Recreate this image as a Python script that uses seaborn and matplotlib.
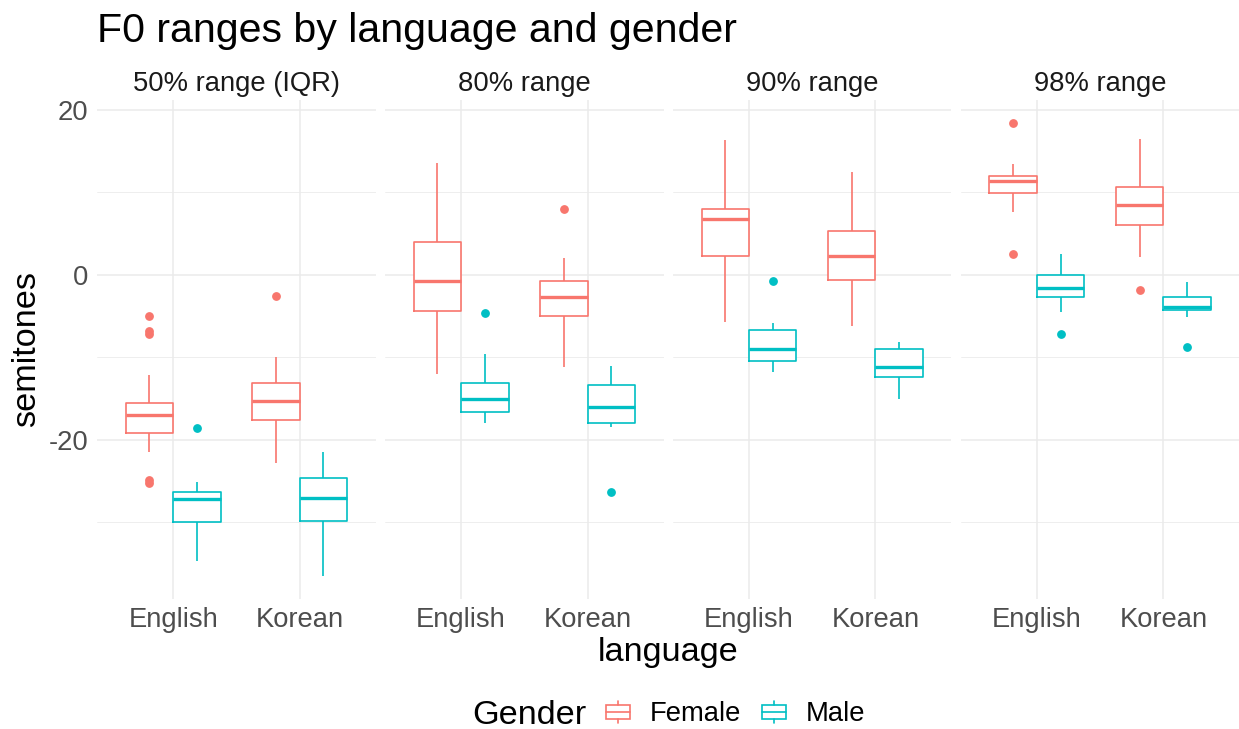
import pandas as pd
import matplotlib
matplotlib.use('Agg')
import matplotlib.pyplot as plt
import seaborn as sns
from matplotlib.patches import Rectangle, Patch
from matplotlib.lines import Line2D
from matplotlib.legend_handler import HandlerBase

ranges = ['50% range (IQR)', '80% range', '90% range', '98% range']
languages = ['English', 'Korean']
genders = ['Female', 'Male']
colors = ['#F8766D', '#00BFC4']

# speaker values (semitones) per range / language / gender
iqr_en_f = [-25.2, -24.8, -21.4, -20.2, -19.11, -18.6, -18.0, -17.5, -16.97,
            -16.6, -16.2, -15.9, -15.56, -12.12, -7.1, -6.8, -4.93]
iqr_en_m = [-34.63, -31.0, -29.9, -28.5, -27.11, -26.8, -26.26, -25.13, -18.59]
iqr_ko_f = [-22.75, -19.5, -17.58, -16.3, -15.27, -14.2, -13.13, -9.9, -2.59]
iqr_ko_m = [-36.48, -32.0, -29.78, -28.3, -27.03, -25.8, -24.6, -23.0, -21.41]

r80_en_f = [-12.0, -7.0, -4.32, -2.5, -0.73, 1.5, 4.04, 8.0, 13.54]
r80_en_m = [-17.98, -17.3, -16.61, -15.8, -14.99, -14.0, -13.13, -9.62, -4.61]
r80_ko_f = [-11.11, -7.0, -4.93, -3.8, -2.67, -1.7, -0.73, 2.1, 8.0]
r80_ko_m = [-26.26, -18.46, -17.94, -17.0, -16.0, -14.5, -13.33, -12.0, -11.03]

r90_en_f = [-5.74, -1.0, 2.3, 4.5, 6.75, 7.4, 8.0, 12.0, 16.36]
r90_en_m = [-11.76, -11.0, -10.42, -9.7, -8.97, -7.8, -6.67, -5.78, -0.73]
r90_ko_f = [-6.14, -3.0, -0.65, 0.8, 2.3, 3.8, 5.37, 9.0, 12.44]
r90_ko_m = [-15.03, -13.5, -12.4, -11.8, -11.15, -10.0, -9.01, -8.6, -8.16]

r98_en_f = [2.59, 7.6, 9.98, 10.7, 11.35, 11.7, 12.0, 13.45, 18.46]
r98_en_m = [-7.19, -4.53, -2.63, -2.1, -1.62, -0.8, -0.04, 1.2, 2.5]
r98_ko_f = [-1.78, 2.18, 6.1, 7.3, 8.48, 9.6, 10.71, 13.0, 16.48]
r98_ko_m = [-8.69, -5.05, -4.24, -4.0, -3.84, -3.2, -2.63, -1.7, -0.89]

groups = {
    (ranges[0], 'English', 'Female'): iqr_en_f, (ranges[0], 'English', 'Male'): iqr_en_m,
    (ranges[0], 'Korean', 'Female'): iqr_ko_f, (ranges[0], 'Korean', 'Male'): iqr_ko_m,
    (ranges[1], 'English', 'Female'): r80_en_f, (ranges[1], 'English', 'Male'): r80_en_m,
    (ranges[1], 'Korean', 'Female'): r80_ko_f, (ranges[1], 'Korean', 'Male'): r80_ko_m,
    (ranges[2], 'English', 'Female'): r90_en_f, (ranges[2], 'English', 'Male'): r90_en_m,
    (ranges[2], 'Korean', 'Female'): r90_ko_f, (ranges[2], 'Korean', 'Male'): r90_ko_m,
    (ranges[3], 'English', 'Female'): r98_en_f, (ranges[3], 'English', 'Male'): r98_en_m,
    (ranges[3], 'Korean', 'Female'): r98_ko_f, (ranges[3], 'Korean', 'Male'): r98_ko_m,
}
rows = [(r, l, g, v) for (r, l, g), vals in groups.items() for v in vals]
df = pd.DataFrame(rows, columns=['range', 'language', 'gender', 'semitones'])

sns.set_style('white')
plt.rcParams['font.family'] = ['Liberation Sans', 'DejaVu Sans']
plt.rcParams['axes.unicode_minus'] = False
plt.rcParams['text.color'] = 'black'


class BoxKey(HandlerBase):
    # ggplot-style boxplot legend key
    def create_artists(self, legend, orig_handle, xdescent, ydescent, width, height, fontsize, trans):
        c = orig_handle.get_edgecolor()
        x0, y0 = -xdescent, -ydescent
        box = Rectangle((x0, y0 + 0.2 * height), width, 0.6 * height, facecolor='white',
                        edgecolor=c, linewidth=1.2, transform=trans)
        med = Line2D([x0, x0 + width], [y0 + 0.5 * height] * 2, color=c, linewidth=1.2, transform=trans)
        lo = Line2D([x0 + width / 2] * 2, [y0, y0 + 0.2 * height], color=c, linewidth=1.2, transform=trans)
        hi = Line2D([x0 + width / 2] * 2, [y0 + 0.8 * height, y0 + height], color=c, linewidth=1.2, transform=trans)
        return [box, med, lo, hi]


W, H = 1239, 729
fig = plt.figure(figsize=(W / 100, H / 100), dpi=100)

for i, rng in enumerate(ranges):
    left = 97.3 + i * 287.9
    ax = fig.add_axes([left / W, 1 - 598.6 / H, 278.3 / W, 498.6 / H])
    sub = df[df['range'] == rng]

    # white box fill underneath so the grid doesn't show through
    sns.boxplot(data=sub, x='language', y='semitones', hue='gender', order=languages,
                hue_order=genders, palette=['white', 'white'], width=0.75, linewidth=0,
                showfliers=False, showcaps=False, legend=False, ax=ax)
    sns.boxplot(data=sub, x='language', y='semitones', hue='gender', order=languages,
                hue_order=genders, palette=colors, fill=False, width=0.75, linewidth=1.2,
                fliersize=5.3, showcaps=False, medianprops={'linewidth': 2.4}, legend=False, ax=ax)

    for line in ax.lines:
        if line.get_marker() == 'o':
            line.set_markerfacecolor(line.get_markeredgecolor())

    ax.set_xlim(-0.6, 1.6)
    ax.set_ylim(-39.23, 21.21)
    ax.set_yticks([-20, 0, 20])
    ax.set_yticks([-30, -10, 10], minor=True)
    ax.set_axisbelow(True)
    ax.grid(True, which='major', color='#EBEBEB', linewidth=1.1)
    ax.grid(True, which='minor', axis='y', color='#EBEBEB', linewidth=0.6)
    for s in ax.spines.values():
        s.set_visible(False)
    ax.tick_params(which='both', length=0)
    ax.tick_params(axis='x', labelsize=19.7, labelcolor='#4D4D4D', pad=6)
    ax.tick_params(axis='y', labelsize=19.7, labelcolor='#4D4D4D', pad=6.5)
    if i > 0:
        ax.tick_params(axis='y', labelleft=False)
    ax.set_xlabel('')
    ax.set_ylabel('')
    ax.set_title(rng, fontsize=19.7, color='#1A1A1A', pad=6.7)

fig.text(97 / W, 1 - 42 / H, 'F0 ranges by language and gender', fontsize=29.6,
         color='black', ha='left', va='baseline')
fig.text(668 / W, 1 - 661 / H, 'language', fontsize=24.7, color='black',
         ha='center', va='baseline')
fig.text(27 / W, 1 - 349 / H, 'semitones', fontsize=24.7, color='black',
         ha='center', va='center', rotation=90)

fig.text(472 / W, 1 - 724 / H, 'Gender', fontsize=24.7, color='black', ha='left', va='baseline')
fig.legend(handles=[Patch(edgecolor=c) for c in colors], labels=genders,
           handler_map={Patch: BoxKey()}, loc='center left',
           bbox_to_anchor=(606 / W, 1 - 714 / H), ncol=2, frameon=False, fontsize=19.7,
           handlelength=24 / 27.4, handleheight=25 / 27.4, handletextpad=20 / 27.4,
           columnspacing=21 / 27.4, borderpad=0, borderaxespad=0, labelcolor='black')

fig.savefig('out.png', dpi=100)
